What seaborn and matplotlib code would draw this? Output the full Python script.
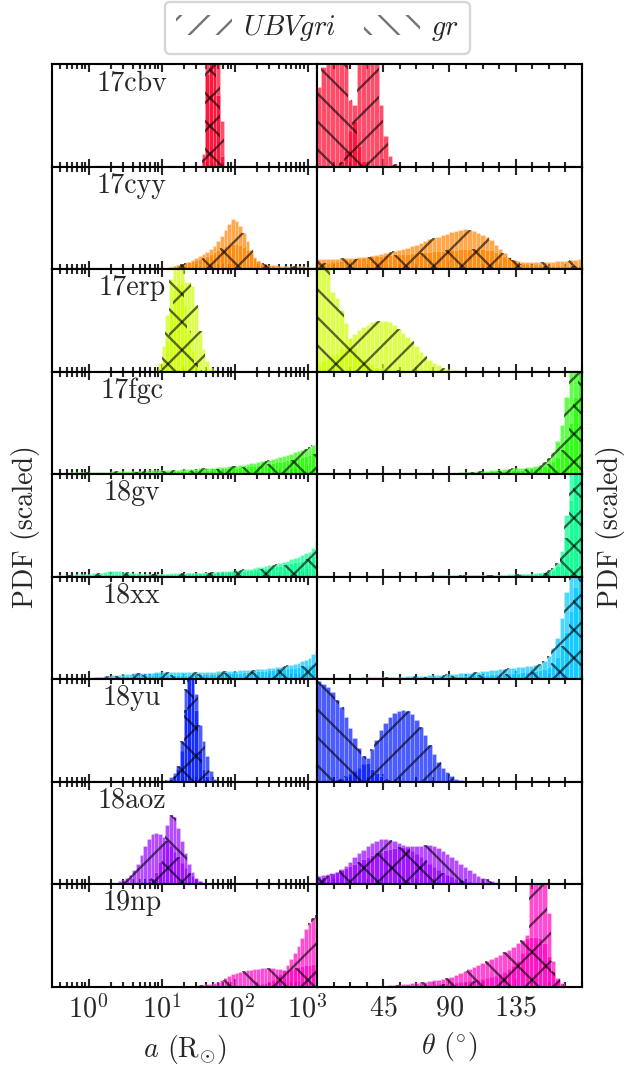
import numpy as np
import matplotlib
matplotlib.use("Agg")
import matplotlib.pyplot as plt
from matplotlib.patches import Patch
from matplotlib.ticker import MultipleLocator, LogLocator, NullFormatter
import seaborn as sns

sns.set_style("ticks")
plt.rcParams["font.family"] = "serif"
plt.rcParams["font.serif"] = ["cmr10", "DejaVu Serif"]
plt.rcParams["mathtext.fontset"] = "cm"
plt.rcParams["axes.unicode_minus"] = False
plt.rcParams["axes.formatter.use_mathtext"] = True
plt.rcParams["font.size"] = 12
plt.rcParams["hatch.linewidth"] = 1.0
plt.rcParams["axes.linewidth"] = 0.9
plt.rcParams["axes.edgecolor"] = "black"

names = ["17cbv", "17cyy", "17erp", "17fgc", "18gv", "18xx", "18yu", "18aoz", "19np"]

DLOG = 0.05   # bin width in log10(a / Rsun)
DTH = 3.0     # bin width in theta (deg)

# ---- semi-major axis, log10 bins: first edge + heights (fraction of panel height)
a_ubv_start = [1.55, 1.00, 0.95, -0.45, -0.45, -0.05, 1.10, 0.30, 2.20]
a_gr_start = [1.55, 0.95, 0.95, -0.45, -0.45, -0.20, 1.00, 0.75, 1.35]

a_ubv = [
    [0.12, 1.3, 1.7, 1.5, 1.1, 0.45],
    [0.01, 0.015, 0.02, 0.03, 0.04, 0.05, 0.06, 0.07, 0.09, 0.11,
     0.13, 0.15, 0.17, 0.2, 0.23, 0.27, 0.32, 0.38, 0.44, 0.49,
     0.47, 0.42, 0.35, 0.27, 0.19, 0.12, 0.08, 0.05, 0.04, 0.03,
     0.03, 0.025, 0.025, 0.02, 0.02, 0.02, 0.02, 0.02, 0.02, 0.015, 0.015, 0.015, 0.015],
    [0.02, 0.1, 0.3, 0.6, 0.8, 0.85, 0.86, 0.87, 0.87, 0.84, 0.65, 0.4, 0.22, 0.1, 0.04, 0.015],
    [0.01, 0.012, 0.014, 0.015, 0.016, 0.017, 0.018, 0.019, 0.02, 0.02,
     0.021, 0.022, 0.023, 0.024, 0.025, 0.026, 0.027, 0.028, 0.029, 0.03,
     0.031, 0.032, 0.033, 0.034, 0.035, 0.036, 0.037, 0.038, 0.039, 0.04,
     0.041, 0.042, 0.043, 0.045, 0.046, 0.048, 0.05, 0.051, 0.053, 0.055,
     0.057, 0.059, 0.061, 0.064, 0.067, 0.07, 0.073, 0.077, 0.08, 0.084,
     0.088, 0.093, 0.098, 0.104, 0.11, 0.117, 0.124, 0.132, 0.14, 0.149,
     0.158, 0.168, 0.178, 0.189, 0.2, 0.212, 0.224, 0.237, 0.25, 0.264,
     0.28, 0.3],
    [0.012, 0.014, 0.016, 0.018, 0.02, 0.022, 0.024, 0.026, 0.028, 0.03,
     0.033, 0.036, 0.04, 0.045, 0.05, 0.052, 0.052, 0.05, 0.046, 0.042,
     0.038, 0.035, 0.032, 0.03, 0.029, 0.028, 0.028, 0.028, 0.028, 0.029,
     0.03, 0.031, 0.032, 0.033, 0.034, 0.035, 0.036, 0.037, 0.038, 0.039,
     0.04, 0.042, 0.044, 0.046, 0.048, 0.05, 0.053, 0.056, 0.059, 0.062,
     0.066, 0.07, 0.074, 0.079, 0.084, 0.09, 0.096, 0.103, 0.11, 0.118,
     0.127, 0.136, 0.146, 0.157, 0.169, 0.182, 0.196, 0.211, 0.227, 0.245,
     0.28, 0.34],
    [0.008, 0.012, 0.016, 0.02, 0.024, 0.028, 0.032, 0.036, 0.04, 0.044,
     0.047, 0.05, 0.053, 0.056, 0.058, 0.06, 0.062, 0.063, 0.064, 0.065,
     0.066, 0.067, 0.068, 0.068, 0.069, 0.069, 0.07, 0.07, 0.07, 0.07,
     0.071, 0.071, 0.072, 0.072, 0.073, 0.074, 0.075, 0.076, 0.077, 0.078,
     0.08, 0.082, 0.084, 0.086, 0.088, 0.09, 0.093, 0.096, 0.099, 0.102,
     0.106, 0.11, 0.115, 0.12, 0.126, 0.133, 0.14, 0.15, 0.16, 0.175,
     0.19, 0.21, 0.24, 0.27],
    [0.02, 0.05, 0.12, 0.3, 0.7, 1.1, 1.2, 0.85, 0.55, 0.4, 0.25, 0.1, 0.03, 0.01],
    [0.01, 0.015, 0.025, 0.04, 0.06, 0.09, 0.14, 0.2, 0.28, 0.37,
     0.44, 0.49, 0.5, 0.49, 0.46, 0.42, 0.37, 0.31, 0.26, 0.21,
     0.16, 0.11, 0.08, 0.05, 0.03, 0.015, 0.005],
    [0.005, 0.01, 0.015, 0.02, 0.03, 0.04, 0.06, 0.09, 0.12, 0.16,
     0.21, 0.27, 0.33, 0.4, 0.47, 0.56, 0.62, 0.67, 0.7],
]

a_gr = [
    [0.08, 0.9, 1.6, 1.7, 0.7, 0.1],
    [0.005, 0.01, 0.015, 0.02, 0.03, 0.04, 0.05, 0.06, 0.07, 0.08,
     0.09, 0.1, 0.11, 0.13, 0.15, 0.17, 0.19, 0.21, 0.23, 0.24,
     0.25, 0.25, 0.24, 0.22, 0.19, 0.15, 0.11, 0.08, 0.06, 0.05,
     0.045, 0.04, 0.04, 0.035, 0.035, 0.03, 0.03, 0.03, 0.03, 0.03, 0.025, 0.025, 0.02, 0.02],
    [0.08, 0.25, 0.55, 0.9, 1.1, 1.1, 1.02, 0.65, 0.4, 0.2, 0.08, 0.02],
    [0.005, 0.006, 0.007, 0.008, 0.009, 0.01, 0.011, 0.012, 0.012, 0.013,
     0.013, 0.014, 0.014, 0.015, 0.015, 0.016, 0.016, 0.017, 0.017, 0.018,
     0.018, 0.019, 0.02, 0.02, 0.021, 0.022, 0.023, 0.024, 0.025, 0.026,
     0.027, 0.028, 0.029, 0.03, 0.031, 0.033, 0.034, 0.036, 0.037, 0.039,
     0.041, 0.043, 0.045, 0.047, 0.05, 0.052, 0.055, 0.058, 0.061, 0.064,
     0.068, 0.071, 0.075, 0.079, 0.083, 0.088, 0.093, 0.098, 0.103, 0.109,
     0.115, 0.121, 0.128, 0.135, 0.142, 0.15, 0.158, 0.166, 0.175, 0.184,
     0.193, 0.2],
    [0.008, 0.009, 0.01, 0.011, 0.012, 0.013, 0.014, 0.015, 0.016, 0.017,
     0.018, 0.019, 0.02, 0.021, 0.022, 0.023, 0.023, 0.024, 0.024, 0.024,
     0.024, 0.024, 0.024, 0.024, 0.024, 0.024, 0.025, 0.025, 0.025, 0.026,
     0.026, 0.027, 0.027, 0.028, 0.029, 0.03, 0.031, 0.032, 0.033, 0.034,
     0.035, 0.036, 0.038, 0.04, 0.042, 0.044, 0.046, 0.048, 0.05, 0.053,
     0.056, 0.059, 0.062, 0.066, 0.07, 0.074, 0.078, 0.083, 0.088, 0.094,
     0.1, 0.107, 0.114, 0.121, 0.129, 0.138, 0.147, 0.157, 0.168, 0.18,
     0.2, 0.23],
    [0.004, 0.006, 0.008, 0.01, 0.012, 0.014, 0.016, 0.018, 0.02, 0.022,
     0.024, 0.026, 0.028, 0.03, 0.032, 0.033, 0.034, 0.035, 0.036, 0.037,
     0.038, 0.039, 0.04, 0.04, 0.041, 0.041, 0.042, 0.042, 0.043, 0.043,
     0.044, 0.044, 0.045, 0.046, 0.047, 0.048, 0.049, 0.05, 0.051, 0.052,
     0.054, 0.056, 0.058, 0.06, 0.062, 0.064, 0.066, 0.068, 0.07, 0.073,
     0.076, 0.079, 0.082, 0.085, 0.088, 0.092, 0.096, 0.1, 0.104, 0.108,
     0.113, 0.118, 0.124, 0.13, 0.137, 0.145, 0.155],
    [0.01, 0.02, 0.04, 0.08, 0.15, 0.4, 0.9, 1.4, 1.3, 0.7, 0.3, 0.12, 0.05, 0.02],
    [0.01, 0.03, 0.06, 0.12, 0.22, 0.4, 0.58, 0.67, 0.65, 0.55,
     0.42, 0.3, 0.2, 0.12, 0.06, 0.03, 0.01],
    [0.003, 0.005, 0.008, 0.012, 0.016, 0.02, 0.025, 0.032, 0.04, 0.06,
     0.08, 0.1, 0.12, 0.135, 0.145, 0.15, 0.16, 0.165, 0.17, 0.175,
     0.18, 0.18, 0.18, 0.18, 0.175, 0.17, 0.165, 0.165, 0.17, 0.18,
     0.19, 0.2, 0.21, 0.215, 0.22, 0.22],
]

# ---- inclination theta, 3 deg bins: first edge + heights
t_ubv_start = [15, 0, 0, 0, 0, 0, 9, 0, 60]
t_gr_start = [0, 0, 0, 0, 0, 0, 0, 0, 30]

t_ubv = [
    [0.05, 0.15, 0.35, 0.6, 1.1, 1.3, 1.35, 1.3, 1.05, 0.6, 0.3, 0.1, 0.03, 0.01],
    [0.05, 0.06, 0.06, 0.07, 0.07, 0.08, 0.09, 0.09, 0.1, 0.1,
     0.11, 0.12, 0.13, 0.14, 0.15, 0.16, 0.17, 0.18, 0.19, 0.2,
     0.21, 0.23, 0.24, 0.26, 0.27, 0.29, 0.3, 0.31, 0.33, 0.34,
     0.36, 0.37, 0.38, 0.39, 0.38, 0.37, 0.35, 0.33, 0.31, 0.28,
     0.24, 0.2, 0.16, 0.12, 0.09, 0.07, 0.05, 0.05, 0.04, 0.04,
     0.04, 0.03, 0.03, 0.03, 0.03, 0.03, 0.03, 0.03, 0.03, 0.03],
    [0.08, 0.1, 0.12, 0.15, 0.18, 0.22, 0.27, 0.32, 0.37, 0.41,
     0.44, 0.46, 0.48, 0.49, 0.49, 0.49, 0.48, 0.46, 0.42, 0.38,
     0.34, 0.3, 0.25, 0.19, 0.15, 0.11, 0.08, 0.06, 0.04, 0.03,
     0.02, 0.015, 0.01, 0.005],
    [0.004, 0.004, 0.005, 0.005, 0.005, 0.005, 0.006, 0.006, 0.006, 0.006,
     0.007, 0.007, 0.007, 0.007, 0.008, 0.008, 0.008, 0.008, 0.009, 0.009,
     0.009, 0.01, 0.01, 0.01, 0.011, 0.011, 0.011, 0.012, 0.012, 0.012,
     0.013, 0.015, 0.017, 0.02, 0.022, 0.025, 0.028, 0.031, 0.034, 0.037,
     0.04, 0.044, 0.048, 0.052, 0.056, 0.06, 0.064, 0.068, 0.072, 0.076,
     0.09, 0.12, 0.16, 0.22, 0.32, 0.48, 0.75, 1.2, 1.6, 1.8],
    [0.004, 0.005, 0.005, 0.006, 0.006, 0.006, 0.007, 0.007, 0.007, 0.007,
     0.008, 0.008, 0.008, 0.008, 0.008, 0.009, 0.009, 0.009, 0.009, 0.009,
     0.01, 0.01, 0.01, 0.01, 0.01, 0.011, 0.011, 0.011, 0.011, 0.012,
     0.012, 0.012, 0.013, 0.013, 0.014, 0.014, 0.015, 0.015, 0.016, 0.017,
     0.018, 0.019, 0.02, 0.021, 0.022, 0.024, 0.026, 0.028, 0.03, 0.033,
     0.037, 0.045, 0.06, 0.085, 0.13, 0.25, 0.6, 1.2, 1.7, 1.9],
    [0.005, 0.008, 0.01, 0.01, 0.012, 0.012, 0.013, 0.014, 0.015, 0.015,
     0.016, 0.017, 0.018, 0.019, 0.02, 0.021, 0.022, 0.023, 0.024, 0.025,
     0.026, 0.028, 0.03, 0.032, 0.034, 0.036, 0.038, 0.04, 0.043, 0.046,
     0.05, 0.053, 0.057, 0.06, 0.064, 0.068, 0.072, 0.076, 0.08, 0.085,
     0.09, 0.095, 0.1, 0.105, 0.11, 0.115, 0.12, 0.125, 0.13, 0.135,
     0.15, 0.18, 0.23, 0.3, 0.4, 0.6, 0.85, 1.2, 1.5, 1.7],
    [0.01, 0.02, 0.03, 0.05, 0.07, 0.1, 0.13, 0.17, 0.23, 0.32,
     0.41, 0.5, 0.57, 0.63, 0.67, 0.69, 0.7, 0.69, 0.66, 0.6,
     0.53, 0.45, 0.36, 0.27, 0.19, 0.13, 0.09, 0.05, 0.03, 0.015,
     0.008, 0.003],
    [0.05, 0.06, 0.08, 0.1, 0.12, 0.15, 0.18, 0.22, 0.26, 0.3,
     0.33, 0.37, 0.4, 0.42, 0.44, 0.44, 0.43, 0.42, 0.4, 0.38,
     0.35, 0.32, 0.29, 0.26, 0.23, 0.2, 0.17, 0.14, 0.11, 0.09,
     0.07, 0.05, 0.04, 0.03, 0.02, 0.015, 0.01, 0.005],
    [0.005, 0.007, 0.01, 0.012, 0.015, 0.018, 0.02, 0.022, 0.025, 0.028,
     0.03, 0.035, 0.04, 0.045, 0.05, 0.055, 0.06, 0.07, 0.08, 0.09,
     0.1, 0.12, 0.14, 0.17, 0.2, 0.25, 0.33, 0.5, 1.2, 1.5,
     1.5, 1.3, 0.72, 0.25, 0.08, 0.03, 0.01, 0.005],
]

t_gr = [
    [0.78, 0.97, 1.15, 1.3, 1.3, 1.2, 1.0, 0.65, 0.45, 0.2, 0.06, 0.01],
    [0.1, 0.1, 0.1, 0.1, 0.1, 0.11, 0.11, 0.11, 0.11, 0.12,
     0.12, 0.12, 0.13, 0.13, 0.13, 0.14, 0.14, 0.14, 0.15, 0.15,
     0.15, 0.16, 0.16, 0.16, 0.17, 0.17, 0.18, 0.18, 0.18, 0.19,
     0.19, 0.19, 0.2, 0.2, 0.2, 0.2, 0.2, 0.2, 0.19, 0.19,
     0.17, 0.15, 0.13, 0.11, 0.09, 0.08, 0.07, 0.07, 0.07, 0.07,
     0.07, 0.07, 0.07, 0.07, 0.08, 0.08, 0.08, 0.09, 0.09, 0.1],
    [1.3, 1.25, 1.1, 0.78, 0.72, 0.6, 0.47, 0.33, 0.23, 0.16,
     0.12, 0.09, 0.07, 0.05, 0.04, 0.03, 0.025, 0.02, 0.015, 0.01,
     0.01, 0.005],
    [0.003, 0.003, 0.003, 0.003, 0.003, 0.004, 0.004, 0.004, 0.004, 0.004,
     0.005, 0.005, 0.005, 0.005, 0.005, 0.006, 0.006, 0.006, 0.006, 0.006,
     0.007, 0.007, 0.007, 0.008, 0.008, 0.008, 0.009, 0.009, 0.009, 0.01,
     0.011, 0.012, 0.013, 0.014, 0.016, 0.018, 0.02, 0.022, 0.024, 0.026,
     0.028, 0.03, 0.033, 0.036, 0.039, 0.042, 0.045, 0.048, 0.052, 0.056,
     0.065, 0.08, 0.1, 0.13, 0.17, 0.24, 0.34, 0.5, 0.75, 1.05],
    [0.003, 0.003, 0.004, 0.004, 0.004, 0.004, 0.005, 0.005, 0.005, 0.005,
     0.005, 0.006, 0.006, 0.006, 0.006, 0.006, 0.007, 0.007, 0.007, 0.007,
     0.007, 0.008, 0.008, 0.008, 0.008, 0.008, 0.009, 0.009, 0.009, 0.009,
     0.01, 0.01, 0.01, 0.011, 0.011, 0.012, 0.012, 0.013, 0.013, 0.014,
     0.015, 0.016, 0.017, 0.018, 0.019, 0.02, 0.022, 0.024, 0.026, 0.028,
     0.032, 0.038, 0.048, 0.065, 0.1, 0.18, 0.38, 0.75, 1.1, 1.3],
    [0.004, 0.005, 0.006, 0.007, 0.008, 0.008, 0.009, 0.009, 0.01, 0.01,
     0.011, 0.011, 0.012, 0.012, 0.013, 0.013, 0.014, 0.014, 0.015, 0.015,
     0.016, 0.017, 0.018, 0.019, 0.02, 0.021, 0.022, 0.023, 0.024, 0.025,
     0.027, 0.029, 0.031, 0.033, 0.035, 0.037, 0.039, 0.041, 0.043, 0.045,
     0.047, 0.05, 0.053, 0.056, 0.059, 0.062, 0.065, 0.068, 0.072, 0.076,
     0.085, 0.1, 0.12, 0.16, 0.22, 0.32, 0.46, 0.66, 0.9, 1.1],
    [0.98, 0.95, 0.92, 0.87, 0.8, 0.73, 0.63, 0.52, 0.43, 0.33,
     0.25, 0.18, 0.12, 0.08, 0.05, 0.03, 0.02, 0.01, 0.005],
    [0.08, 0.09, 0.1, 0.11, 0.12, 0.14, 0.16, 0.18, 0.2, 0.22,
     0.24, 0.26, 0.28, 0.3, 0.31, 0.33, 0.34, 0.35, 0.36, 0.36,
     0.37, 0.37, 0.37, 0.37, 0.38, 0.38, 0.37, 0.35, 0.32, 0.29,
     0.26, 0.23, 0.2, 0.17, 0.14, 0.11, 0.08, 0.06, 0.045, 0.03,
     0.02, 0.012, 0.006, 0.003],
    [0.003, 0.004, 0.005, 0.006, 0.008, 0.01, 0.012, 0.015, 0.018, 0.02,
     0.025, 0.03, 0.035, 0.04, 0.045, 0.05, 0.06, 0.065, 0.07, 0.08,
     0.09, 0.11, 0.13, 0.15, 0.17, 0.19, 0.21, 0.23, 0.25, 0.27,
     0.29, 0.31, 0.34, 0.36, 0.39, 0.42, 0.45, 0.47, 0.48, 0.48,
     0.47, 0.42, 0.3, 0.15, 0.06, 0.02, 0.008, 0.003],
]

colors = plt.get_cmap("gist_rainbow")(np.linspace(0, 1, len(names)))


def hist(ax, start, step, vals, color, hatch, log, layer):
    vals = np.asarray(vals, dtype=float)
    edges = start + step * np.arange(len(vals) + 1)
    mids = edges[:-1] + step / 2
    x = 10 ** mids if log else mids
    bins = [float(e) for e in edges]
    if layer == "fill":
        face = (color[0], color[1], color[2], 0.7)
        sns.histplot(x=x, weights=vals, bins=bins, log_scale=log, element="bars",
                     fill=True, color=face, facecolor=face, edgecolor=(1, 1, 1, 0.35),
                     linewidth=0.25, ax=ax)
    else:
        sns.histplot(x=x, weights=vals, bins=bins, log_scale=log, element="step",
                     fill=True, color=color, facecolor="none", edgecolor=(0, 0, 0, 0.6),
                     linewidth=0, hatch=hatch, ax=ax)


fig, axes = plt.subplots(9, 2, figsize=(636 / 168, 1070 / 168), dpi=168, sharex="col")
fig.subplots_adjust(left=0.082, right=0.915, top=0.940, bottom=0.078, hspace=0, wspace=0)

for i, name in enumerate(names):
    axl, axr = axes[i]
    c = colors[i]
    for layer in ["fill", "hatch"]:
        hist(axl, a_ubv_start[i], DLOG, a_ubv[i], c, "//", True, layer)
        hist(axl, a_gr_start[i], DLOG, a_gr[i], c, "\\\\", True, layer)
        hist(axr, t_ubv_start[i], DTH, t_ubv[i], c, "//", False, layer)
        hist(axr, t_gr_start[i], DTH, t_gr[i], c, "\\\\", False, layer)

    axl.text(0.30, 0.815, name, transform=axl.transAxes, ha="center", va="center", fontsize=12)

    for ax in (axl, axr):
        ax.set_ylim(0, 1)
        ax.set_yticks([])
        ax.set_ylabel("")
        ax.set_xlabel("")
        ax.tick_params(which="both", direction="in", top=True, bottom=True,
                       left=False, right=False, labelsize=12, width=0.9)
        ax.tick_params(which="major", length=3.5)
        ax.tick_params(which="minor", length=2.0)

    axl.set_xscale("log")
    axl.set_xlim(10 ** -0.5, 10 ** 3.13)
    axl.xaxis.set_major_locator(LogLocator(base=10, numticks=10))
    axl.xaxis.set_minor_locator(LogLocator(base=10, subs=np.arange(2, 10), numticks=20))
    axl.xaxis.set_minor_formatter(NullFormatter())

    axr.set_xlim(0, 180)
    axr.set_xticks([45, 90, 135])
    axr.xaxis.set_minor_locator(MultipleLocator(11.25))

axes[-1, 0].set_xlabel(r"$a$ (R$_{\odot}$)", fontsize=12)
axes[-1, 1].set_xlabel(r"$\theta$ ($^{\circ}$)", fontsize=12)

fig.text(0.040, 0.508, "PDF (scaled)", rotation=90, ha="center", va="center", fontsize=12)
fig.text(0.960, 0.508, "PDF (scaled)", rotation=90, ha="center", va="center", fontsize=12)

handles = [Patch(facecolor="white", edgecolor="0.45", hatch="//", linewidth=0),
           Patch(facecolor="white", edgecolor="0.45", hatch="\\\\", linewidth=0)]
fig.legend(handles, [r"$UBVgri$", r"$gr$"], loc="center", bbox_to_anchor=(0.499, 0.974),
           ncol=2, fontsize=12, handlelength=2.0, handletextpad=0.4, columnspacing=1.0,
           frameon=True, fancybox=True, edgecolor="0.8")

fig.savefig("out.png", dpi=168)
